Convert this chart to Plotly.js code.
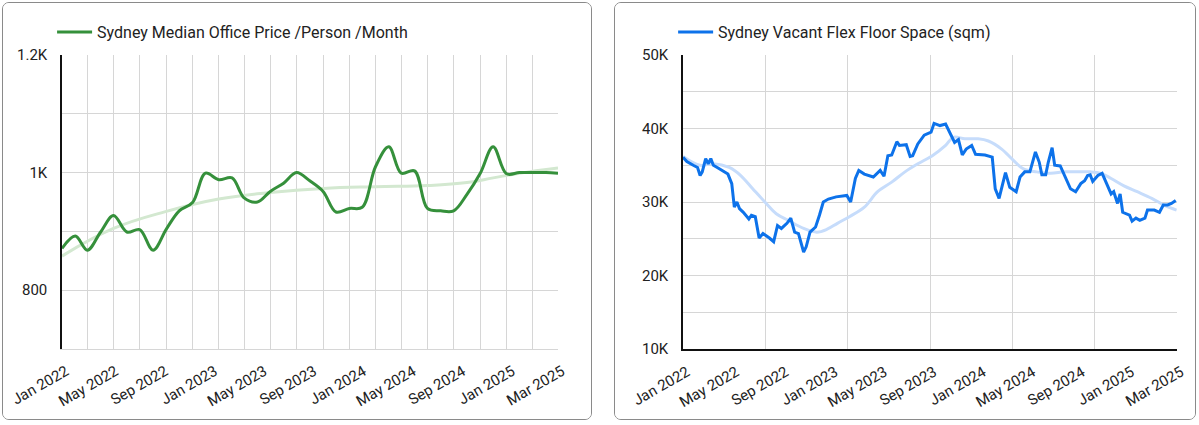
<!DOCTYPE html>
<html>
<head>
<meta charset="utf-8">
<script src="https://cdn.plot.ly/plotly-3.0.1.min.js"></script>
<style>
  body { margin: 0; background: #fff; font-family: Roboto, sans-serif; }
  .card { position: absolute; top: 2px; height: 418px; border: 1px solid #8a8a8a; border-radius: 7px; box-sizing: border-box; overflow: hidden; background: #fff; }
  #priceCard { left: 2px; width: 590px; }
  #spaceCard { left: 614px; width: 582px; }
</style>
</head>
<body>
<div class="card" id="priceCard"><div id="price"></div></div>
<div class="card" id="spaceCard"><div id="space"></div></div>
<script>
// ---- left chart: median office price per person per month (monthly)
var priceMonths = [
  '2022-01-01','2022-02-01','2022-03-01','2022-04-01','2022-05-01','2022-06-01','2022-07-01','2022-08-01','2022-09-01','2022-10-01','2022-11-01','2022-12-01',
  '2023-01-01','2023-02-01','2023-03-01','2023-04-01','2023-05-01','2023-06-01','2023-07-01','2023-08-01','2023-09-01','2023-10-01','2023-11-01','2023-12-01',
  '2024-01-01','2024-02-01','2024-03-01','2024-04-01','2024-05-01','2024-06-01','2024-07-01','2024-08-01','2024-09-01','2024-10-01','2024-11-01','2024-12-01',
  '2025-01-01','2025-02-01','2025-03-01'
];
var priceValues = [
  871, 892, 868, 899, 927, 899, 903, 868, 904, 935, 949, 999,
  988, 991, 957, 950, 968, 982, 1000, 986, 968, 933, 939, 941,
  1010, 1044, 999, 1003, 939, 935, 935, 963, 999, 1044, 998, 1000,
  1000, 1000, 999
];
var priceTrendDates = ['2022-01-01','2022-05-01','2022-09-01','2023-01-01','2023-05-01','2023-09-01','2024-01-01','2024-05-01','2024-08-01','2024-10-01','2024-12-01','2025-03-01'];
var priceTrendValues = [858, 905, 934, 955, 966, 973, 976, 978, 983, 991, 999, 1008];

// ---- right chart: vacant flex floor space (sqm)
var spaceDates = [
  '2022-01-01','2022-01-10','2022-01-25','2022-02-04','2022-02-10','2022-02-15','2022-02-23','2022-03-01','2022-03-07','2022-03-13','2022-03-25',
  '2022-04-07','2022-04-16','2022-04-25','2022-05-01','2022-05-07','2022-05-13','2022-05-22','2022-06-04','2022-06-10','2022-06-19','2022-06-28',
  '2022-07-07','2022-07-22','2022-08-01','2022-08-10','2022-08-19','2022-09-01','2022-09-10','2022-09-19','2022-09-28','2022-10-10','2022-10-16',
  '2022-10-25','2022-11-07','2022-11-16','2022-11-25','2022-12-07','2022-12-25','2023-01-19','2023-01-28','2023-02-08','2023-02-16','2023-03-01',
  '2023-03-22','2023-04-07','2023-04-16','2023-04-25','2023-05-04','2023-05-16','2023-05-22','2023-06-07','2023-06-16','2023-06-22','2023-07-04',
  '2023-07-19','2023-08-04','2023-08-11','2023-08-25','2023-09-07','2023-09-19','2023-09-28','2023-10-07','2023-10-16','2023-10-25','2023-11-07',
  '2023-11-16','2023-12-08','2023-12-25','2024-01-01','2024-01-10','2024-01-19','2024-01-25','2024-02-04','2024-02-10','2024-02-19','2024-02-28',
  '2024-03-10','2024-03-22','2024-04-04','2024-04-13','2024-04-19','2024-04-28','2024-05-04','2024-05-13','2024-05-19','2024-06-01','2024-06-13',
  '2024-06-25','2024-07-07','2024-07-19','2024-07-28','2024-08-04','2024-08-10','2024-08-16','2024-08-28','2024-09-07','2024-09-19','2024-09-28',
  '2024-10-04','2024-10-13','2024-10-19','2024-10-25','2024-11-10','2024-11-16','2024-11-25','2024-12-04','2024-12-16','2024-12-22','2025-01-07',
  '2025-01-19','2025-01-28','2025-02-07','2025-02-16','2025-02-26'
];
var spaceValues = [
  36100, 35500, 35000, 34700, 33600, 34100, 35900, 35200, 35900, 35000, 34600,
  34100, 33800, 32500, 29300, 30000, 29100, 28600, 27700, 28200, 28000, 25100,
  25700, 25100, 24600, 26800, 26400, 27100, 27800, 25900, 25700, 23200, 23900,
  25900, 26600, 28200, 30000, 30400, 30700, 30900, 30000, 33200, 34300, 33800,
  33400, 34300, 33500, 36300, 36400, 38200, 37700, 37800, 36200, 36300, 37900,
  39100, 39500, 40700, 40400, 40600, 39200, 38100, 38500, 36400, 37200, 37700,
  36500, 36400, 36100, 31800, 30500, 32500, 34000, 32000, 31800, 31400, 33400,
  34100, 34100, 36800, 35400, 33700, 33700, 35400, 37400, 35000, 34900, 33400,
  31800, 31400, 32500, 32900, 33600, 33700, 32800, 33600, 33900, 32300, 31100,
  31400, 29800, 31100, 28600, 28200, 27400, 27800, 27500, 27800, 28900, 28900,
  28600, 29600, 29600, 29800, 30200
];
var spaceTrendDates = [
  '2022-01-01','2022-02-10','2022-03-13','2022-04-19','2022-05-16','2022-06-13','2022-07-13','2022-08-07','2022-09-04','2022-10-10',
  '2022-11-10','2022-12-04','2022-12-28','2023-01-25','2023-03-01','2023-04-01','2023-05-04','2023-06-04','2023-07-04','2023-08-07',
  '2023-09-07','2023-09-25','2023-10-22','2023-11-22','2023-12-16','2024-01-16','2024-02-12','2024-03-07','2024-04-07','2024-05-10',
  '2024-06-10','2024-07-10','2024-08-10','2024-09-04','2024-09-28','2024-10-28','2024-11-28','2025-01-01','2025-02-01','2025-02-28'
];
var spaceTrendValues = [
  36200, 35000, 35200, 34700, 33600, 31800, 29900, 28400, 27500, 26400,
  25900, 26300, 27100, 28000, 29300, 31400, 32700, 34100, 35200, 36300,
  37700, 38800, 38600, 38600, 38300, 37200, 35700, 34500, 34100, 33900,
  34100, 34100, 34100, 33900, 33200, 32200, 31400, 30500, 29500, 28900
];

var xRange = ['2022-01-01', '2025-03-01'];
var xTickLabels = ['Jan 2022','May 2022','Sep 2022','Jan 2023','May 2023','Sep 2023','Jan 2024','May 2024','Sep 2024','Jan 2025','Mar 2025'];
var priceTicks = [800, 1000, 1200];
var priceTickLabels = ['800', '1K', '1.2K'];
var spaceTicks = [10000, 20000, 30000, 40000, 50000];
var spaceTickLabels = ['10K', '20K', '30K', '40K', '50K'];

// the dashboard spreads its date labels evenly along the axis
var t0 = Date.parse(xRange[0]), t1 = Date.parse(xRange[1]);
var xTickVals = xTickLabels.map(function (d, i) {
    return t0 + (t1 - t0) * i / (xTickLabels.length - 1);
});

var gridCol = '#d6d6d6';
var tickFont = {family: 'Roboto, sans-serif', size: 15, color: '#222'};
var legendStyle = {orientation: 'h', x: -0.02, xanchor: 'left', y: 1.02, yanchor: 'bottom',
                   itemwidth: 35, font: {family: 'Roboto, sans-serif', size: 16, color: '#222'}};

function xAxis(extra) {
    var ax = {
        type: 'date',
        range: xRange,
        tickmode: 'array',
        tickvals: xTickVals,
        ticktext: xTickLabels,
        tickangle: -30,
        tickfont: tickFont,
        ticks: '',
        ticklabelstandoff: 7,
        ticklabelshift: 4,
        zeroline: false
    };
    for (var k in extra) ax[k] = extra[k];
    return ax;
}

var priceData = [{
    x: priceTrendDates,
    y: priceTrendValues,
    type: 'scatter',
    mode: 'lines',
    line: {color: '#d3e8d0', width: 3, shape: 'spline', smoothing: 1.2},
    showlegend: false,
    hoverinfo: 'skip'
}, {
    x: priceMonths,
    y: priceValues,
    type: 'scatter',
    mode: 'lines',
    name: 'Sydney Median Office Price /Person /Month',
    line: {color: '#35903b', width: 3, shape: 'spline', smoothing: 1}
}];

var priceLayout = {
    width: 588,
    height: 416,
    margin: {l: 59, r: 33, t: 47, b: 70},
    paper_bgcolor: '#fff',
    plot_bgcolor: '#fff',
    font: {family: 'Roboto, sans-serif', color: '#222'},
    showlegend: true,
    legend: legendStyle,
    xaxis: xAxis({
        showgrid: false,
        showline: true,
        linecolor: gridCol,
        linewidth: 1,
        minor: {tickmode: 'linear', tick0: xRange[0], dtick: 'M2', showgrid: true, gridcolor: gridCol, ticks: ''}
    }),
    yaxis: {
        range: [700, 1200],
        tickmode: 'array',
        tickvals: priceTicks,
        ticktext: priceTickLabels,
        tickfont: tickFont,
        showgrid: true,
        gridcolor: gridCol,
        showline: true,
        linecolor: '#111',
        linewidth: 1.5,
        ticks: '',
        ticklabelstandoff: 10,
        zeroline: false,
        minor: {tickmode: 'linear', tick0: 700, dtick: 100, showgrid: true, gridcolor: gridCol, ticks: ''}
    }
};

var spaceData = [{
    x: spaceTrendDates,
    y: spaceTrendValues,
    type: 'scatter',
    mode: 'lines',
    line: {color: '#c6dcfb', width: 3, shape: 'spline', smoothing: 1},
    showlegend: false,
    hoverinfo: 'skip'
}, {
    x: spaceDates,
    y: spaceValues,
    type: 'scatter',
    mode: 'lines',
    name: 'Sydney Vacant Flex Floor Space (sqm)',
    line: {color: '#0d72ea', width: 3}
}];

var spaceLayout = {
    width: 580,
    height: 416,
    margin: {l: 68, r: 18, t: 49, b: 70},
    paper_bgcolor: '#fff',
    plot_bgcolor: '#fff',
    font: {family: 'Roboto, sans-serif', color: '#222'},
    showlegend: true,
    legend: legendStyle,
    xaxis: xAxis({
        showgrid: false,
        showline: true,
        linecolor: '#111',
        linewidth: 1.5,
        minor: {tickmode: 'linear', tick0: xRange[0], dtick: (t1 - t0) / 6, showgrid: true, gridcolor: gridCol, ticks: ''}
    }),
    yaxis: {
        range: [10000, 50000],
        tickmode: 'array',
        tickvals: spaceTicks,
        ticktext: spaceTickLabels,
        tickfont: tickFont,
        showgrid: true,
        gridcolor: gridCol,
        showline: true,
        linecolor: '#111',
        linewidth: 1.5,
        ticks: '',
        ticklabelstandoff: 10,
        zeroline: false,
        minor: {tickmode: 'linear', tick0: 10000, dtick: 5000, showgrid: true, gridcolor: gridCol, ticks: ''}
    }
};

Plotly.newPlot('price', priceData, priceLayout, {displayModeBar: false});
Plotly.newPlot('space', spaceData, spaceLayout, {displayModeBar: false});
</script>
</body>
</html>
